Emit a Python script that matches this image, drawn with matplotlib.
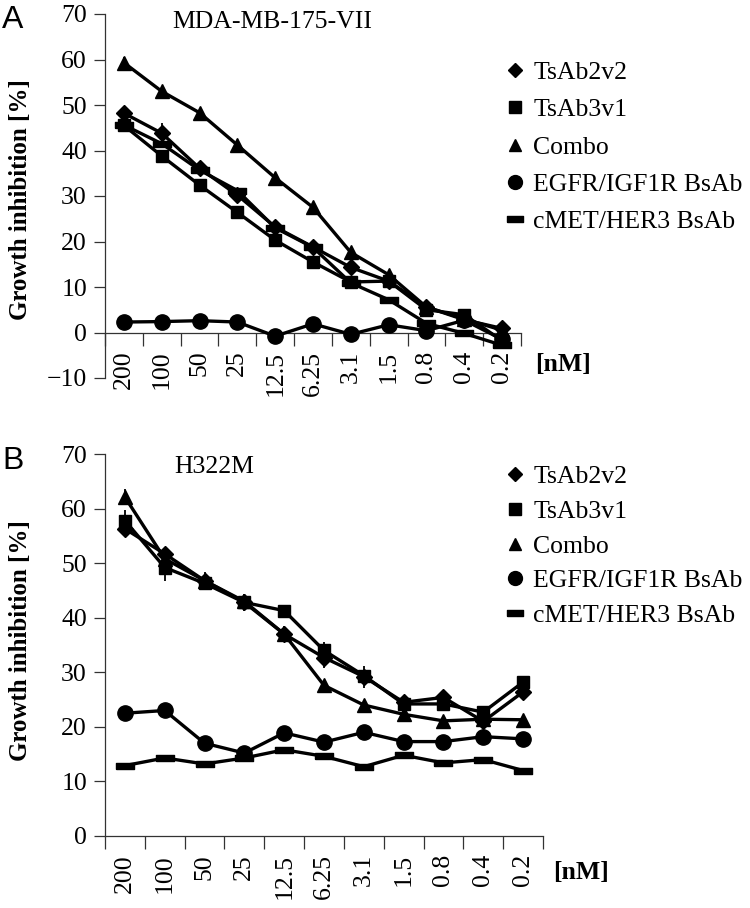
import numpy as np
import matplotlib
matplotlib.use("Agg")
import matplotlib.pyplot as plt
from matplotlib.lines import Line2D

"""Data"""
conc = ["200", "100", "50", "25", "12.5", "6.25", "3.1", "1.5", "0.8", "0.4", "0.2"]
names = ["TsAb2v2", "TsAb3v1", "Combo", "EGFR/IGF1R BsAb", "cMET/HER3 BsAb"]

# panel A : MDA-MB-175-VII
tsab2v2_a = [48.2, 43.8, 36.1, 30.2, 23.2, 18.8, 14.3, 11.3, 5.6, 2.8, 0.9]
tsab3v1_a = [45.5, 38.8, 32.4, 26.4, 20.3, 15.5, 11.1, 11.3, 5.0, 3.9, -1.8]
combo_a = [59.3, 53.0, 48.3, 41.2, 34.0, 27.5, 17.6, 12.7, 5.6, 3.0, 0.5]
egfr_a = [2.3, 2.4, 2.6, 2.3, -0.8, 1.9, -0.4, 1.7, 0.4, 2.7, -1.5]
cmet_a = [45.6, 41.5, 35.7, 31.2, 23.0, 18.7, 10.9, 7.2, 2.0, -0.2, -2.8]
err2_a = [1.5, 2.2, 1.0, 1.0, 0.8, 0.8, 0.8, 0.8, 0.8, 0.8, 0.8]
err3_a = [1.2, 1.0, 0.8, 0.8, 0.8, 0.8, 0.8, 0.8, 0.8, 0.8, 0.8]
errc_a = [1.2, 1.0, 0.8, 0.8, 0.8, 0.8, 0.8, 0.8, 0.8, 0.8, 0.8]

# panel B : H322M
tsab2v2_b = [56.3, 51.7, 46.8, 42.8, 37.0, 32.7, 29.2, 24.5, 25.4, 21.0, 26.4]
tsab3v1_b = [57.8, 49.2, 46.3, 42.8, 41.3, 34.0, 29.4, 24.2, 24.2, 22.7, 28.2]
combo_b = [62.1, 50.8, 46.8, 43.0, 37.0, 27.6, 24.0, 22.3, 21.1, 21.4, 21.3]
egfr_b = [22.5, 23.0, 17.0, 15.2, 18.9, 17.2, 19.0, 17.3, 17.3, 18.2, 17.8]
cmet_b = [12.9, 14.3, 13.2, 14.3, 15.8, 14.6, 12.7, 14.8, 13.4, 14.0, 12.0]
err2_b = [1.2, 1.0, 1.5, 1.5, 1.5, 2.0, 2.0, 1.0, 1.0, 1.0, 1.0]
err3_b = [2.0, 2.5, 1.0, 1.0, 0.8, 1.5, 1.0, 0.8, 0.8, 0.8, 0.8]
errc_b = [1.5, 1.0, 1.0, 1.0, 1.0, 0.8, 0.8, 0.8, 0.8, 0.8, 0.8]

"""Style"""
plt.rcParams['font.family'] = ['Liberation Serif', 'DejaVu Serif']
FS = 18.5
dash = [(-1, -0.38), (1, -0.38), (1, 0.38), (-1, 0.38), (-1, -0.38)]
markers = ["D", "s", "^", "o", dash]
msizes = [8, 9, 10, 11, 13]
leg_ms = [7, 8, 8, 10, 11]

x = np.arange(len(conc))

fig = plt.figure(figsize=(7.5, 9.08), dpi=100)


def panel(rect, series, errs, ylim, title, title_xy, nm_xy, leg_anchor, leg_space,
          letter, letter_y, ylab_y):
    ax = fig.add_axes(rect)
    for i, ys in enumerate(series):
        ax.plot(x, ys, color="black", lw=2.4, marker=markers[i], ms=msizes[i],
                mfc="black", mec="black", zorder=3)
    for i, e in enumerate(errs):
        ax.errorbar(x, series[i], yerr=e, fmt="none", ecolor="black", elinewidth=1.3,
                    capsize=0, zorder=2)
    ax.set_xlim(-0.5, len(conc) - 0.5)
    ax.set_ylim(*ylim)
    ax.set_yticks(np.arange(ylim[0], ylim[1] + 1, 10))
    ax.set_yticklabels([str(v).replace("-", "\u2212") for v in range(ylim[0], ylim[1] + 1, 10)])
    ax.spines['top'].set_visible(False)
    ax.spines['right'].set_visible(False)
    ax.spines['bottom'].set_position(('data', 0))
    for s in ['left', 'bottom']:
        ax.spines[s].set_linewidth(0.9)
        ax.spines[s].set_color("#333333")
    ax.set_xticks(x)
    ax.set_xticklabels(conc, rotation=90, fontsize=FS)
    ax.set_xticks(np.arange(-0.5, len(conc)), minor=True)
    ax.tick_params(axis='x', which='major', length=0, pad=13)
    ax.tick_params(axis='x', which='minor', length=9, width=0.9, color="#333333", direction='out')
    ax.tick_params(axis='y', length=8, width=0.9, color="#333333", labelsize=FS, pad=5)
    fig.text(title_xy[0], title_xy[1], title, fontsize=FS, va="center")
    fig.text(nm_xy[0], nm_xy[1], "[nM]", fontsize=FS, fontweight="bold", va="center")
    fig.text(0.003, letter_y, letter, fontsize=23, family="Liberation Sans", va="center")
    fig.text(0.028, ylab_y, "Growth inhibition [%]", rotation=90, fontsize=18,
             fontweight="bold", va="center", ha="center")
    handles = [Line2D([], [], ls="none", marker=markers[i], ms=leg_ms[i], color="black")
               for i in range(len(names))]
    fig.legend(handles, names, loc="upper left", bbox_to_anchor=leg_anchor,
               frameon=False, fontsize=FS, handlelength=0.8, handletextpad=0.3,
               labelspacing=leg_space, borderpad=0, borderaxespad=0)
    return ax


panel([105 / 750, 1 - 378 / 908, 416 / 750, 364 / 908],
      [tsab2v2_a, tsab3v1_a, combo_a, egfr_a, cmet_a], [err2_a, err3_a, errc_a],
      (-10, 70), "MDA-MB-175-VII", (172 / 750, 1 - 22 / 908), (535 / 750, 1 - 365 / 908),
      (505 / 750, 1 - 61 / 908), 0.56, "A", 1 - 20 / 908, 1 - 200 / 908)

panel([105 / 750, 1 - 836 / 908, 438 / 750, 382 / 908],
      [tsab2v2_b, tsab3v1_b, combo_b, egfr_b, cmet_b], [err2_b, err3_b, errc_b],
      (0, 70), "H322M", (174 / 750, 1 - 467 / 908), (553 / 750, 1 - 873 / 908),
      (505 / 750, 1 - 465 / 908), 0.46, "B", 1 - 461 / 908, 1 - 641 / 908)

fig.savefig("out.png", dpi=100)
